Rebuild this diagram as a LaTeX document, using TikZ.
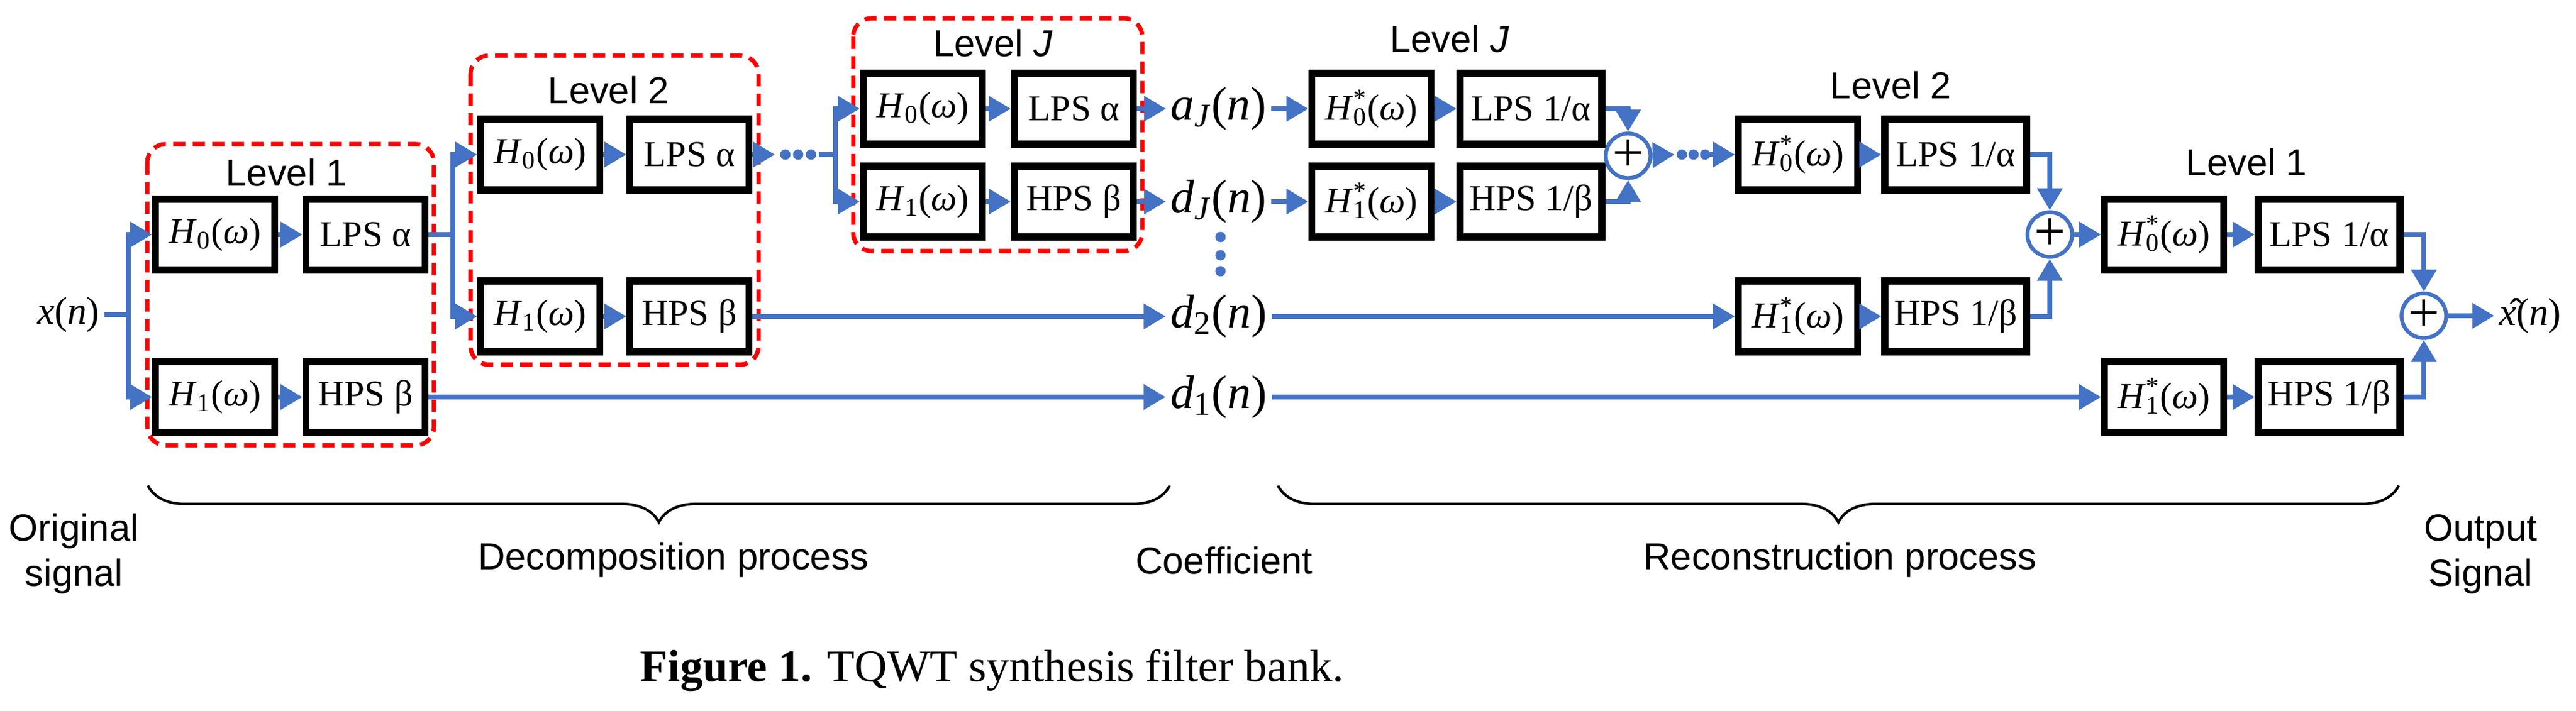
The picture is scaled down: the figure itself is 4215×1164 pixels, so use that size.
\documentclass[tikz,border=0pt]{standalone}
\usepackage{fontspec}
\setmainfont{Liberation Serif}
\newfontfamily\sansf{Liberation Sans}
\usetikzlibrary{arrows.meta,decorations.pathreplacing,calc}
\definecolor{sigblue}{HTML}{4472C4}
\newcommand\Hf[1]{\textit{H}\textsubscript{#1}(\textit{ω})}
\newcommand\Hc[1]{\textit{H}\rlap{\textsuperscript{*}}\textsubscript{#1}(\textit{ω})}
\newcommand\sig[2]{\textit{#1}\textsubscript{#2}(\textit{n})}
\tikzset{
  blk/.style={draw, line width=3.2pt, minimum width=1.95cm, minimum height=1.16cm, inner sep=0pt, font=\fontsize{17}{20}\selectfont},
  wblk/.style={blk, minimum width=2.32cm},
  sum/.style={circle, draw=sigblue, line width=1.8pt, minimum size=0.68cm, inner sep=0pt, fill=white, font=\fontsize{26}{26}\selectfont},
  wire/.style={sigblue, line width=2.4pt},
  flow/.style={wire, -{Triangle[length=0.36cm,width=0.4cm]}},
  lvl/.style={dashed, red, line width=2pt, rounded corners=0.3cm, dash pattern=on 0.2cm off 0.12cm},
  lvltxt/.style={font=\sansf\fontsize{17.5}{21}\selectfont},
  signal/.style={font=\fontsize{22}{26}\selectfont, inner sep=2pt},
  dot/.style={sigblue, fill=sigblue},
  brc/.style={decorate, decoration={brace, mirror, amplitude=0.6cm}, line width=1.2pt}
}
\begin{document}
\begin{tikzpicture}[x=0.01cm, y=-0.01cm]
\useasboundingbox (0,0) rectangle (4215,1164);
% decomposition
\draw [lvl] (241,236) rectangle (710,729);
\draw [lvl] (770,91) rectangle (1241,597);
\draw [lvl] (1396,30) rectangle (1869,411);
\node [lvltxt] at (469,283) {Level 1};
\node [lvltxt] at (996,148) {Level 2};
\node [lvltxt] at (1625,71) {Level \textit{J}};
\node [signal, font=\fontsize{18}{22}\selectfont] (x) at (112,515) {\textit{x}(\textit{n})};
\node [blk, fill=white] (h0a) at (352,384) {\Hf{0}};
\node [blk, fill=white] (lpa) at (598,384) {LPS α};
\node [blk, fill=white] (h1a) at (352,650) {\Hf{1}};
\node [blk, fill=white] (hpa) at (598,650) {HPS β};
\node [blk, fill=white] (h0b) at (884,253) {\Hf{0}};
\node [blk, fill=white] (lpb) at (1128,253) {LPS α};
\node [blk, fill=white] (h1b) at (884,518) {\Hf{1}};
\node [blk, fill=white] (hpb) at (1128,518) {HPS β};
\node [blk, fill=white] (h0j) at (1510,178) {\Hf{0}};
\node [blk, fill=white] (lpj) at (1757,178) {LPS α};
\node [blk, fill=white] (h1j) at (1510,330) {\Hf{1}};
\node [blk, fill=white] (hpj) at (1757,330) {HPS β};
% coefficients
\node [signal] (aj) at (1994,178) {\sig{a}{\textit{J}}};
\node [signal] (dj) at (1994,330) {\sig{d}{\textit{J}}};
\node [signal] (d2) at (1994,518) {\sig{d}{2}};
\node [signal] (d1) at (1994,650) {\sig{d}{1}};
% reconstruction
\node [lvltxt] at (2372,64) {Level \textit{J}};
\node [lvltxt] at (3094,140) {Level 2};
\node [lvltxt] at (3676,266) {Level 1};
\node [blk] (g0j) at (2244,178) {\Hc{0}};
\node [wblk] (ilj) at (2505,178) {LPS 1/α};
\node [blk] (g1j) at (2244,330) {\Hc{1}};
\node [wblk] (ihj) at (2505,330) {HPS 1/β};
\node [sum] (sj) at (2664,255) {+};
\node [blk] (g0b) at (2942,253) {\Hc{0}};
\node [wblk] (ilb) at (3200,253) {LPS 1/α};
\node [blk] (g1b) at (2942,518) {\Hc{1}};
\node [wblk] (ihb) at (3200,518) {HPS 1/β};
\node [sum] (sb) at (3354,384) {+};
\node [blk] (g0a) at (3541,384) {\Hc{0}};
\node [wblk] (ila) at (3811,384) {LPS 1/α};
\node [blk] (g1a) at (3541,650) {\Hc{1}};
\node [wblk] (iha) at (3811,650) {HPS 1/β};
\node [sum] (sa) at (3966,517) {+};
\node [signal, font=\fontsize{18}{22}\selectfont] (xh) at (4140,517) {\^{\textit{x}}(\textit{n})};
% branch points and dots
\coordinate (p1) at (210,515);
\coordinate (p2) at (741,384);
\coordinate (p3) at (1367,253);
\coordinate (e3) at (1268,253);
\coordinate (f3) at (1340,253);
\coordinate (ej) at (2740,253);
\coordinate (fj) at (2797,253);
\foreach \xx in {1285,1306,1327} \fill [dot] (\xx,253) circle (0.085cm);
\foreach \xx in {2752,2771,2790} \fill [dot] (\xx,253) circle (0.085cm);
\foreach \yy in {388,418,444} \fill [dot] (1997,\yy) circle (0.085cm);
% decomposition wires
\draw [wire] (x) -- (p1);
\draw [flow] (p1) |- (h0a);
\draw [flow] (p1) |- (h1a);
\draw [flow] (h0a) -- (lpa);
\draw [flow] (h1a) -- (hpa);
\draw [wire] (lpa) -- (p2);
\draw [flow] (p2) |- (h0b);
\draw [flow] (p2) |- (h1b);
\draw [flow] (h0b) -- (lpb);
\draw [flow] (h1b) -- (hpb);
\draw [flow] (lpb) -- (e3);
\draw [wire] (f3) -- (p3);
\draw [flow] (p3) |- (h0j);
\draw [flow] (p3) |- (h1j);
\draw [flow] (h0j) -- (lpj);
\draw [flow] (h1j) -- (hpj);
\draw [flow] (lpj) -- (aj);
\draw [flow] (hpj) -- (dj);
\draw [flow] (hpb) -- (d2);
\draw [flow] (hpa) -- (d1);
% reconstruction wires
\draw [flow] (aj) -- (g0j);
\draw [flow] (dj) -- (g1j);
\draw [flow] (g0j) -- (ilj);
\draw [flow] (g1j) -- (ihj);
\draw [flow] (ilj) -| (sj);
\draw [flow] (ihj) -| (sj);
\draw [flow] (sj) -- (ej);
\draw [flow] (fj) -- (g0b);
\draw [flow] (d2) -- (g1b);
\draw [flow] (g0b) -- (ilb);
\draw [flow] (g1b) -- (ihb);
\draw [flow] (ilb) -| (sb);
\draw [flow] (ihb) -| (sb);
\draw [flow] (sb) -- (g0a);
\draw [flow] (d1) -- (g1a);
\draw [flow] (g0a) -- (ila);
\draw [flow] (g1a) -- (iha);
\draw [flow] (ila) -| (sa);
\draw [flow] (iha) -| (sa);
\draw [flow] (sa) -- (xh);
% braces and captions
\draw [brc] (242,795) -- (1914,795);
\draw [brc] (2091,795) -- (3925,795);
\node [lvltxt, align=center] at (121,907) {Original\\signal};
\node [lvltxt] at (1102,917) {Decomposition process};
\node [lvltxt] at (2003,917) {Coefficient};
\node [lvltxt] at (3011,917) {Reconstruction process};
\node [lvltxt, align=center] at (4059,907) {Output\\Signal};
\node [anchor=west, font=\fontsize{21}{25}\selectfont] at (1035,1098) {\textbf{Figure 1.} TQWT synthesis filter bank.};
\end{tikzpicture}
\end{document}
